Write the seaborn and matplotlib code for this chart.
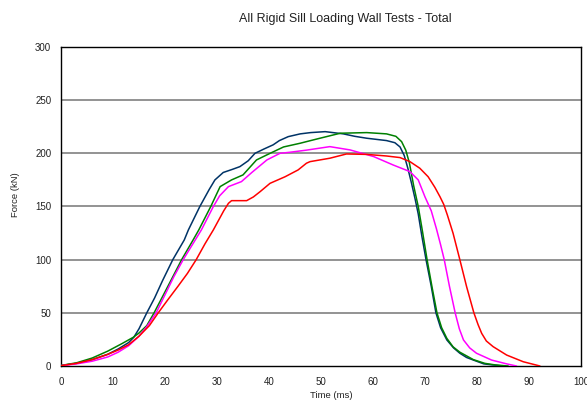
import matplotlib
matplotlib.use("Agg")
import matplotlib.pyplot as plt
import seaborn as sns
import pandas as pd

# ---- data ----
navy_t = [0, 3, 6, 9, 11, 13, 14, 15, 16.5, 18, 19.5, 21.5, 23.7, 24.5, 26.7, 28.5, 29.6, 31.2, 33, 34.4,
          36, 37.3, 39, 40.8, 42, 43.7, 46, 48, 50.8, 54.3, 56.5, 58.8, 62.6, 64.2, 65.2, 66, 66.7, 67.4,
          68.1, 68.7, 69.4, 70.2, 71.2, 72.1, 73, 74.2, 75.5, 76.7, 78, 79.3, 81.3, 83, 85]
navy_f = [0.5, 2.5, 6, 11, 16, 22, 27, 35, 50, 64, 80, 100, 118.5, 128, 150, 166, 175, 182, 185, 187.5,
          193, 200, 204, 208, 212, 215.7, 218.3, 219.5, 220.4, 218.3, 216, 214.2, 212, 210, 206, 198, 186, 172,
          157, 143, 122, 100, 75, 50, 36, 24.5, 17, 12, 8, 5.6, 2, 1, 0]

green_t = [0, 3, 6, 9, 11.7, 13.9, 15, 16.5, 17.9, 19.5, 21.3, 23.2, 25.4, 26.5, 28.8, 30.6, 32.8, 35,
           37.6, 40.2, 42.8, 46, 47.2, 49.8, 53.7, 58.8, 62.6, 64.4, 65.5, 66.3, 67, 67.8, 68.7, 69.5, 70.4,
           71.4, 72.3, 73.2, 74.2, 75.4, 76.7, 79.3, 81.5, 83.5, 86]
green_f = [0.5, 3, 7.5, 14, 21, 27, 31, 38, 50, 65, 82, 100, 118.5, 128, 150, 168.7, 175, 179.7,
           193.8, 200, 206, 209.5, 211, 214.2, 218.9, 219.5, 218.3, 216, 211, 203, 191, 170, 150, 127, 100,
           73, 50, 36, 26, 18, 13, 6, 2.5, 1, 0]

magenta_t = [0, 3, 6, 9, 11, 13, 15, 16.5, 18.3, 20, 21.7, 23.5, 25.5, 27, 29.3, 30.5, 32.2, 34.7, 36.7,
             39.6, 42.1, 44, 47.2, 51.7, 55.6, 60.1, 63.9, 67.1, 68.7, 70, 71.2, 72.2, 73, 73.7, 74.7, 75.8,
             76.6, 77.4, 78.6, 79.9, 82.8, 85.7, 87.6]
magenta_f = [0.3, 2, 4.5, 8.5, 13, 19, 28, 37, 50, 67, 84, 100, 116, 128, 150, 160, 168.7, 173.4, 182,
             193.8, 200, 201, 203, 206.3, 203.2, 197, 189, 182.8, 175, 159, 146, 129, 114, 100, 75, 50,
             35, 24.5, 17, 12, 5.6, 2, 0]

red_t = [0, 3, 6, 9, 11, 13, 15, 17, 18.7, 20.5, 22.5, 24.3, 26, 27.7, 29.3, 30.3, 31.3, 32.2, 32.8, 35.7,
         37, 38.3, 40.2, 43.1, 45.6, 47.2, 47.9, 51.7, 54.9, 58.8, 62.6, 65.2, 67.1, 69, 70.6, 71.9, 72.9,
         73.6, 74.3, 75.4, 76.7, 78, 79.4, 80.2, 80.9, 81.8, 83.1, 85.7, 88.9, 92.1]
red_f = [0.3, 2.5, 6, 11, 15, 20, 28, 38, 50, 62, 75, 87, 100, 115, 128, 137, 146, 153, 155.5, 155.5,
         159, 164, 171.8, 178, 184.4, 190.7, 192.2, 195.4, 199.4, 199, 197.5, 196, 192.2, 186, 178, 168, 159,
         152, 142, 124.8, 100, 74.6, 50, 39, 30.7, 23.5, 18.2, 10.3, 4, 0]

series_names = ["Test A", "Test B", "Test C", "Test D"]
series_colors = ["#003366", "#008000", "#FF00FF", "#FF0000"]
y_ticks = [0, 50, 100, 150, 200, 250, 300]
x_ticks = [0, 10, 20, 30, 40, 50, 60, 70, 80, 90, 100]
title = "All Rigid Sill Loading Wall Tests - Total"
x_label = "Time (ms)"
y_label = "Force (kN)"

frames = []
for name, t, f in zip(series_names, [navy_t, green_t, magenta_t, red_t],
                      [navy_f, green_f, magenta_f, red_f]):
    frames.append(pd.DataFrame({"t": t, "f": f, "test": name}))
df = pd.concat(frames, ignore_index=True)

sns.set_style("white")
plt.rcParams["font.family"] = ["Liberation Sans", "DejaVu Sans"]

fig = plt.figure(figsize=(5.87, 4.01), dpi=100)
ax = fig.add_axes([61 / 587, 1 - 366 / 401, 520 / 587, 319 / 401])

for y in y_ticks[1:-1]:
    ax.axhline(y, color="#808080", lw=1.2, zorder=1)

sns.lineplot(data=df, x="t", y="f", hue="test", palette=dict(zip(series_names, series_colors)),
             sort=False, estimator=None, lw=1.1, legend=False, ax=ax, zorder=3)

ax.set_xlim(0, 100)
ax.set_ylim(0, 300)
ax.set_xticks(x_ticks)
ax.set_yticks(y_ticks)
ax.tick_params(axis="both", direction="out", length=3, width=0.8, labelsize=7,
               colors="black", labelcolor="#222222", pad=4)
ax.tick_params(axis="x", pad=5)
for s in ax.spines.values():
    s.set_color("black")
    s.set_linewidth(1.0)
ax.set_xlabel("")
ax.set_ylabel("")

fig.text(345 / 587, 1 - 19 / 401, title, ha="center", va="center", fontsize=9, color="#222222")
fig.text(331 / 587, 1 - 396 / 401, x_label, ha="center", va="center", fontsize=6.8, color="#222222")
fig.text(15.5 / 587, 1 - 195 / 401, y_label, ha="center", va="center", rotation=90, fontsize=6.8,
         color="#222222")

fig.savefig("out.png", dpi=100)
